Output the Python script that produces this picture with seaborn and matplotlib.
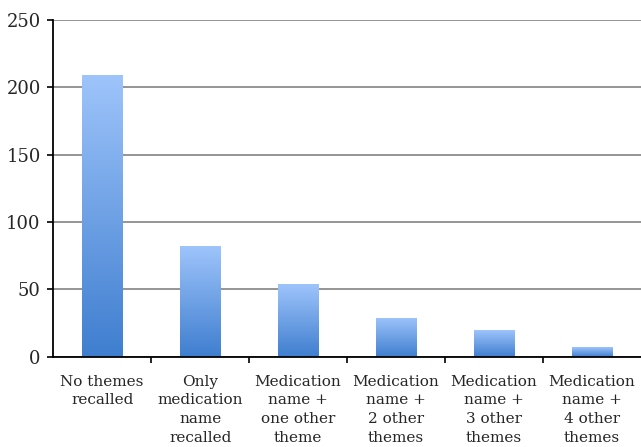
import numpy as np
import pandas as pd
import seaborn as sns
import matplotlib.pyplot as plt
from matplotlib.colors import LinearSegmentedColormap

categories = [
    "No themes\nrecalled",
    "Only\nmedication\nname\nrecalled",
    "Medication\nname +\none other\ntheme",
    "Medication\nname +\n2 other\nthemes",
    "Medication\nname +\n3 other\nthemes",
    "Medication\nname +\n4 other\nthemes",
]
counts = [209, 82, 54, 29, 20, 7]
y_ticks = [0, 50, 100, 150, 200, 250]

sns.set_style("white")
plt.rcParams['font.family'] = ['DejaVu Serif']

df = pd.DataFrame({'category': categories, 'count': counts})

fig = plt.figure(figsize=(6.41, 4.47), dpi=100)
ax = fig.add_axes([0.083, 0.202, 0.917, 0.753])

sns.barplot(data=df, x='category', y='count', ax=ax, width=0.41,
            color='#6b9be3', edgecolor='none', saturation=1)

# gradient fill for each bar, light at the top, darker at the bottom
cmap = LinearSegmentedColormap.from_list('bar', ['#3f7ecf', '#9ec4fb'])
grad = np.linspace(0, 1, 256).reshape(-1, 1)
for bar in ax.patches:
    x0, y0 = bar.get_x(), bar.get_y()
    w, h = bar.get_width(), bar.get_height()
    im = ax.imshow(grad, cmap=cmap, origin='lower', aspect='auto',
                   extent=[x0, x0 + w, y0, y0 + h], zorder=bar.get_zorder() + 0.1)
    im.set_clip_path(bar)
    bar.set_alpha(0)

ax.set_xlim(-0.5, len(categories) - 0.5)
ax.set_ylim(0, 250)
ax.set_yticks(y_ticks)
ax.yaxis.grid(True, color='#8c8c8c', linewidth=1.3)
ax.set_axisbelow(True)

ax.set_xlabel('')
ax.set_ylabel('')
ax.set_xticks(range(len(categories)))
ax.set_xticklabels(categories, fontsize=11, linespacing=1.42)
ax.set_xticks(np.arange(0.5, len(categories) - 0.5, 1), minor=True)
ax.tick_params(axis='x', which='major', length=0, pad=13)
ax.tick_params(axis='x', which='minor', length=4, width=1.2, color='black',
               direction='out', bottom=True)
ax.tick_params(axis='y', length=4, width=1.2, color='black', direction='out',
               labelsize=13, left=True, pad=5)

for side in ['top', 'right']:
    ax.spines[side].set_visible(False)
for side in ['left', 'bottom']:
    ax.spines[side].set_color('black')
    ax.spines[side].set_linewidth(1.3)

fig.savefig('out.png', dpi=100)
